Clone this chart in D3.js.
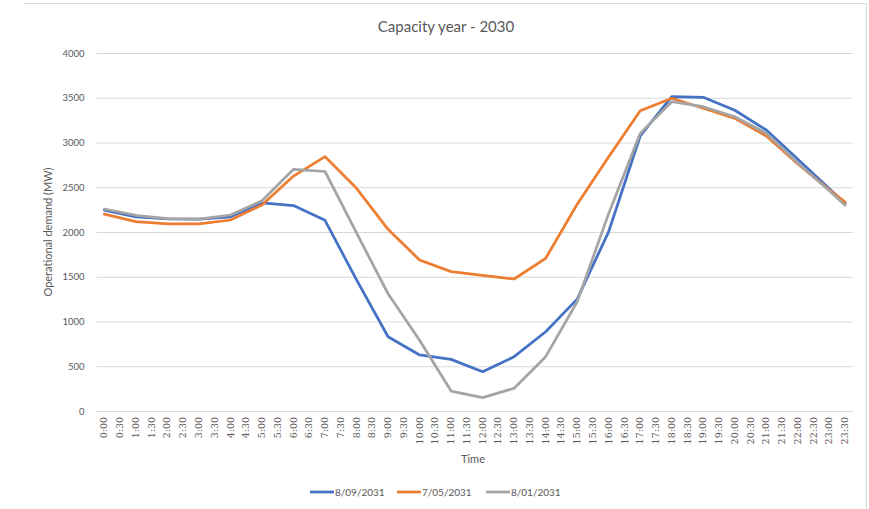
<!DOCTYPE html>
<html>
<head>
<meta charset="utf-8">
<script src="https://cdn.jsdelivr.net/npm/d3@7"></script>
<style>
  html, body { margin: 0; padding: 0; background: #fff; }
  svg { display: block; font-family: Lato, "Open Sans", sans-serif; }
</style>
</head>
<body>
<svg id="chart" width="869" height="509"></svg>
<script>
// Half-hourly time categories along the x axis
const times = [];
for (let h = 0; h < 24; h++) { times.push(h + ":00"); times.push(h + ":30"); }

// Operational demand (MW), hourly readings plus the final 23:30 reading.
// null = no reading in that half-hour slot (the line joins the readings that exist).
const demand_8_09_2031 = [
  2245, null, 2170, null, 2148, null, 2145, null, 2170, null, 2325, null,
  2295, null, 2130, null, 1465, null, 830, null, 626, null, 577, null,
  439, null, 607, null, 886, null, 1250, null, 2005, null, 3073, null,
  3512, null, 3505, null, 3360, null, 3140, null, 2812, null, 2484, 2320
];
const demand_7_05_2031 = [
  2200, null, 2115, null, 2092, null, 2090, null, 2134, null, 2302, null,
  2625, null, 2842, null, 2488, null, 2030, null, 1687, null, 1557, null,
  1515, null, 1475, null, 1706, null, 2310, null, 2842, null, 3355, null,
  3494, null, 3382, null, 3270, null, 3073, null, 2760, null, 2470, 2335
];
const demand_8_01_2031 = [
  2257, null, 2187, null, 2150, null, 2143, null, 2190, null, 2350, null,
  2700, null, 2676, null, 1990, null, 1310, null, 790, null, 223, null,
  149, null, 254, null, 607, null, 1221, null, 2208, null, 3102, null,
  3456, null, 3400, null, 3288, null, 3102, null, 2770, null, 2460, 2300
];
const seriesNames = ["8/09/2031", "7/05/2031", "8/01/2031"];
const seriesColors = ["#4472C4", "#ED7D31", "#A5A5A5"];
const yTicks = [0, 500, 1000, 1500, 2000, 2500, 3000, 3500, 4000];

const series = [demand_8_09_2031, demand_7_05_2031, demand_8_01_2031].map((vals, i) => ({
  name: seriesNames[i],
  color: seriesColors[i],
  points: vals.map((v, j) => ({ t: times[j], v })).filter(d => d.v !== null)
}));

const svg = d3.select("#chart");
const textColor = "#595959";

// Chart frame edges
svg.append("line").attr("x1", 24).attr("x2", 866).attr("y1", 3.5).attr("y2", 3.5)
  .attr("stroke", "#d9d9d9").attr("stroke-width", 1);
svg.append("line").attr("x1", 866.5).attr("x2", 866.5).attr("y1", 3).attr("y2", 509)
  .attr("stroke", "#d9d9d9").attr("stroke-width", 1);

const x = d3.scaleBand().domain(times).range([96.5, 853]).padding(0);
const xc = t => x(t) + x.bandwidth() / 2;
const y = d3.scaleLinear().domain([0, 4000]).range([411, 53]);

// Title
svg.append("text").attr("x", 446).attr("y", 32).attr("text-anchor", "middle")
  .attr("fill", textColor).attr("font-size", 15).text("Capacity year - 2030");

// Horizontal gridlines + y tick labels
const yAxis = svg.append("g").attr("transform", "translate(96.5,0)")
  .call(d3.axisLeft(y).tickValues(yTicks).tickSize(-(853 - 96.5)).tickPadding(12).tickFormat(d3.format("d")));
yAxis.select(".domain").remove();
yAxis.selectAll(".tick line").attr("stroke", "#d9d9d9").attr("stroke-width", 1);
yAxis.selectAll(".tick text").attr("fill", textColor).attr("font-size", 9.5)
  .attr("font-family", "Lato, sans-serif");

// X axis with rotated time labels
const xAxis = svg.append("g").attr("transform", "translate(0,411)")
  .call(d3.axisBottom(x).tickSize(0).tickPadding(0));
xAxis.select(".domain").attr("stroke", "#d9d9d9").attr("stroke-width", 1);
xAxis.selectAll(".tick text")
  .attr("fill", textColor).attr("font-size", 9.5)
  .attr("font-family", "'DejaVu Serif', serif")
  .attr("text-anchor", "end")
  .attr("dy", "0.32em")
  .attr("transform", "translate(0,6) rotate(-90)")
  .attr("x", 0).attr("y", 0);

// Axis titles
svg.append("text").attr("x", 473).attr("y", 463).attr("text-anchor", "middle")
  .attr("fill", textColor).attr("font-size", 11).text("Time");
svg.append("text").attr("transform", "translate(52,232) rotate(-90)").attr("text-anchor", "middle")
  .attr("fill", textColor).attr("font-size", 11).text("Operational demand (MW)");

// Series lines
const line = d3.line().x(d => xc(d.t)).y(d => y(d.v));
svg.append("g").selectAll("path").data(series).join("path")
  .attr("d", d => line(d.points))
  .attr("fill", "none")
  .attr("stroke", d => d.color)
  .attr("stroke-width", 2.75)
  .attr("stroke-linejoin", "round")
  .attr("stroke-linecap", "round");

// Legend
const legendX = [310, 397, 486];
const lg = svg.append("g").selectAll("g").data(series).join("g")
  .attr("transform", (d, i) => `translate(${legendX[i]},492)`);
lg.append("line").attr("x1", 0).attr("x2", 24).attr("y1", 0).attr("y2", 0)
  .attr("stroke", d => d.color).attr("stroke-width", 2.75);
lg.append("text").attr("x", 25).attr("y", 0).attr("dy", "0.35em")
  .attr("fill", textColor).attr("font-size", 10).text(d => d.name);
</script>
</body>
</html>
